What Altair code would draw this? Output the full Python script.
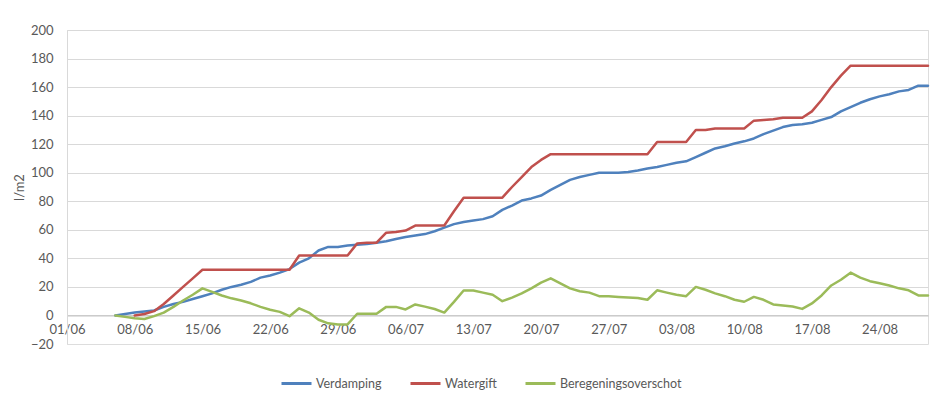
import altair as alt
import pandas as pd

# Verdamping, daily from 06/06 to 29/08
verdamping = [0, 1, 2, 2.8, 3.5, 6, 8, 9.5, 11.5, 13.5,
              15.5, 18, 20, 21.5, 23.5, 26.5, 28, 30, 32.5, 37,
              40, 45.5, 48, 48, 49, 49.5, 50, 51, 52, 53.5,
              55, 56, 57, 59, 61.5, 64, 65.5, 66.5, 67.5, 69.5,
              74, 77, 80.5, 82, 84, 88, 91.5, 95, 97, 98.5,
              100, 100, 100, 100.5, 101.5, 103, 104, 105.5, 107, 108,
              111, 114, 117, 118.5, 120.5, 122, 124, 127, 129.5, 132,
              133.5, 134, 135, 137, 139, 143, 146, 149, 151.5, 153.5,
              155, 157, 158, 161, 161]
verdamping_start = "2024-06-06"

# Watergift, daily from 08/06 to 29/08
watergift = [0, 1, 3, 8, 14, 20, 26, 32,
             32, 32, 32, 32, 32, 32, 32, 32, 32,
             42, 42, 42, 42, 42, 42,
             50.5, 51, 51, 58, 58.5, 59.5, 63, 63, 63, 63, 73, 82.5,
             82.5, 82.5, 82.5, 82.5,
             90, 97, 104, 109, 113,
             113, 113, 113, 113, 113, 113, 113, 113, 113, 113,
             121.5, 121.5, 121.5, 121.5,
             130, 130, 131, 131, 131, 131, 136.5, 137, 137.5, 138.5, 138.5, 138.5, 143, 151, 160, 168,
             175, 175, 175, 175, 175, 175, 175, 175, 175]
watergift_start = "2024-06-08"

# Beregeningsoverschot, daily from 06/06 to 29/08
overschot = [0, -1, -2, -2.5, -0.5, 2, 6, 10.5, 14.5, 19,
             16.5, 14, 12, 10.5, 8.5, 6, 4, 2.5, -0.5, 5,
             2, -3, -5.5, -6.3, -6.3, 1.2, 1.2, 1.2, 6, 6,
             4.2, 7.7, 6.2, 4.5, 2, 9.5, 17.5, 17.5, 16, 14.5,
             10, 12.5, 15.5, 19, 23, 26, 22.5, 19, 17, 16,
             13.5, 13.5, 13, 12.6, 12.3, 11, 17.6, 16, 14.5, 13.5,
             20, 18, 15.5, 13.5, 11, 9.6, 13, 11, 7.7, 7,
             6.3, 4.6, 8.4, 14, 21, 25, 30, 26.5, 24, 22.5,
             21, 19, 17.6, 14, 14]
overschot_start = "2024-06-06"

series_names = ["Verdamping", "Watergift", "Beregeningsoverschot"]
series_colors = ["#4F81BD", "#C0504D", "#9BBB59"]
y_ticks = [-20, 0, 20, 40, 60, 80, 100, 120, 140, 160, 180, 200]
x_tick_start = "2024-06-01"   # 01/06, then every 7 days
x_tick_count = 13

frames = []
for name, vals, start in [("Verdamping", verdamping, verdamping_start),
                          ("Watergift", watergift, watergift_start),
                          ("Beregeningsoverschot", overschot, overschot_start)]:
    d = pd.date_range(start, periods=len(vals), freq="D")
    frames.append(pd.DataFrame({"datum": d.strftime("%Y-%m-%d"), "waarde": vals, "reeks": name}))
df = pd.concat(frames, ignore_index=True)

tick_dates = pd.date_range(x_tick_start, periods=x_tick_count, freq="7D")
tick_vals = [alt.DateTime(year=int(t.year), month=int(t.month), date=int(t.day), utc=True) for t in tick_dates]

W, H = 861, 314
font = "Lato"
txt = "#595959"

chart = alt.Chart(df).mark_line(strokeWidth=2.5, strokeCap="round", strokeJoin="round").encode(
    x=alt.X("datum:T",
            scale=alt.Scale(type="utc",
                            domain=[alt.DateTime(year=2024, month=6, date=1, utc=True),
                                    alt.DateTime(year=2024, month=8, date=29, utc=True)]),
            axis=alt.Axis(values=tick_vals, format="%d/%m", title=None, grid=False,
                          ticks=False, labelPadding=8, offset=-H * 20 / 220,
                          domainColor="#BFBFBF", domainWidth=1,
                          labelFont=font, labelFontSize=13, labelColor=txt,
                          labelAngle=0, labelOverlap=False, labelFlush=False)),
    y=alt.Y("waarde:Q",
            scale=alt.Scale(domain=[-20, 200], nice=False, zero=False),
            axis=alt.Axis(values=y_ticks, title="l/m2", ticks=False, labelPadding=14,
                          grid=True, gridColor="#D9D9D9", gridWidth=1,
                          gridOpacity={"condition": {"test": "datum.value < 0", "value": 0}, "value": 1},
                          domainColor="#D9D9D9", domainWidth=1,
                          labelFont=font, labelFontSize=13, labelColor=txt,
                          titleFont=font, titleFontSize=13, titleColor=txt,
                          titleFontWeight="normal", titlePadding=4)),
    color=alt.Color("reeks:N",
                    scale=alt.Scale(domain=series_names, range=series_colors),
                    legend=alt.Legend(title=None, orient="none", direction="horizontal",
                                      legendX=213, legendY=337,
                                      symbolType="stroke", symbolStrokeWidth=3, symbolSize=900,
                                      labelFont=font, labelFontSize=12.5, labelColor=txt,
                                      labelOffset=3, columnPadding=22)),
    detail="reeks:N",
).properties(
    width=W, height=H,
    autosize=alt.AutoSizeParams(type="none"),
    padding={"left": 59, "top": 22, "right": 8, "bottom": 55},
).configure_view(stroke=None).configure(background="white")

chart.save("out.html", embed_options={"renderer": "svg", "actions": False})
